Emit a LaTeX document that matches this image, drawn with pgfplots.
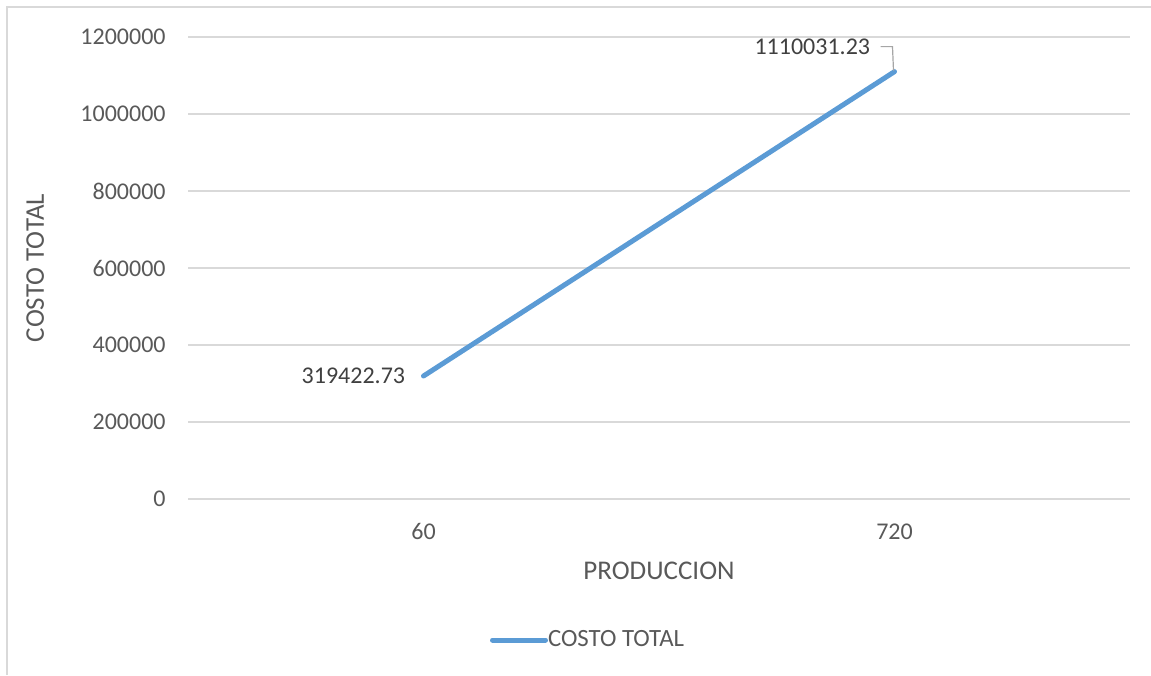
\documentclass[border=0pt]{standalone}
\usepackage{fontspec}
\setmainfont{Carlito}
\usepackage{pgfplots}
\pgfplotsset{compat=1.18}
\definecolor{lineblue}{HTML}{5B9BD5}
\definecolor{gridgray}{HTML}{D9D9D9}
\definecolor{textgray}{HTML}{595959}
\definecolor{labelgray}{HTML}{404040}
\definecolor{leadergray}{HTML}{A6A6A6}
\begin{document}
\begin{tikzpicture}
\fontsize{12}{14}\selectfont
\path[use as bounding box] (0,0) rectangle (575.5pt,337.5pt);
\draw[gridgray, line width=0.75pt] (3.5pt,0pt) -- (3.5pt,334pt) -- (575.5pt,334pt);
\begin{axis}[
  at={(94pt,88pt)}, anchor=south west,
  scale only axis, width=471pt, height=231pt,
  xmin=-0.5, xmax=1.5, ymin=0, ymax=1200000,
  scaled y ticks=false,
  xtick={0,1}, xticklabels={60,720},
  ytick={0,200000,400000,600000,800000,1000000,1200000},
  yticklabels={0,200000,400000,600000,800000,1000000,1200000},
  major tick length=0pt,
  axis line style={draw=none},
  ymajorgrids, grid style={gridgray, line width=0.6pt},
  tick label style={font=\fontsize{12}{14}\selectfont, text=textgray, inner sep=0pt},
  yticklabel style={anchor=east, xshift=-11pt},
  xticklabel style={anchor=base, yshift=-20pt},
  xlabel={PRODUCCION}, ylabel={COSTO TOTAL},
  label style={font=\fontsize{13.5}{16}\selectfont, text=textgray, inner sep=0pt},
  xlabel style={at={(axis description cs:0.5,0)}, anchor=base, yshift=-40pt},
  ylabel style={at={(axis description cs:-0.153,0.5)}, anchor=base},
  legend style={draw=none, fill=none, inner sep=0pt, outer sep=0pt,
    at={(0.3206,-0.3052)}, anchor=west,
    nodes={inner sep=0pt, text=textgray, font=\fontsize{12.4}{14}\selectfont}},
  legend image code/.code={\draw[#1] (1.25pt,0pt) -- (25pt,0pt); \path (0pt,0pt) -- (26.5pt,0pt);},
  clip=false,
]
\addplot[lineblue, line width=2.5pt, line cap=round] coordinates {(0,319422.73) (1,1110031.23)};
\addlegendentry{COSTO TOTAL}
\node[anchor=east, inner sep=0pt, text=labelgray, xshift=-9pt] at (axis cs:0,319422.73) {319422.73};
\node[anchor=east, inner sep=0pt, text=labelgray, xshift=-12pt, yshift=12.25pt] at (axis cs:1,1110031.23) {1110031.23};
\draw[leadergray, line width=0.6pt] ([xshift=-7pt,yshift=12.5pt]axis cs:1,1110031.23) -- ([xshift=-1pt,yshift=12.5pt]axis cs:1,1110031.23) -- ([xshift=-0.5pt,yshift=0.5pt]axis cs:1,1110031.23);
\end{axis}
\end{tikzpicture}
\end{document}
